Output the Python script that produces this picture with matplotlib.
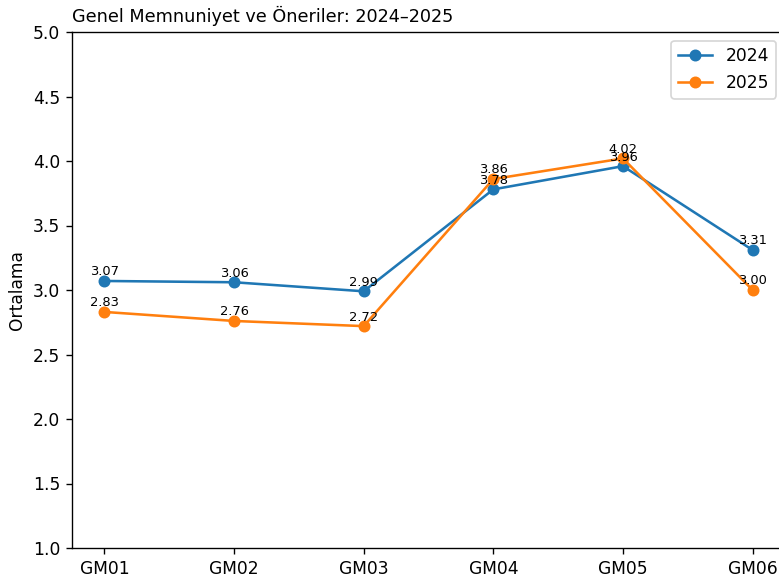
import matplotlib.pyplot as plt

# values
items = ["GM01", "GM02", "GM03", "GM04", "GM05", "GM06"]
mean_2024 = [3.07, 3.06, 2.99, 3.78, 3.96, 3.31]
mean_2025 = [2.83, 2.76, 2.72, 3.86, 4.02, 3.00]

DPI = 123
fig = plt.figure(figsize=(779 / DPI, 583 / DPI), dpi=DPI)
ax = fig.add_axes([72 / 779, 35 / 583, 713 / 779, 516 / 583])

x = range(len(items))
ax.plot(x, mean_2024, marker="o", label="2024")
ax.plot(x, mean_2025, marker="o", label="2025")

# value labels just above each point (they overlap at GM04/GM05, as in the original)
for vals in (mean_2024, mean_2025):
    for i, v in enumerate(vals):
        ax.text(i, v + 0.02, f"{v:.2f}", ha="center", va="bottom", fontsize=7.6)

ax.set_xticks(list(x))
ax.set_xticklabels(items)
ax.set_ylim(1.0, 5.0)
ax.set_ylabel("Ortalama")
ax.set_title("Genel Memnuniyet ve Öneriler: 2024–2025", loc="left", fontsize=10.3)
ax.legend(loc="upper right")

fig.savefig("out.png", dpi=DPI)
